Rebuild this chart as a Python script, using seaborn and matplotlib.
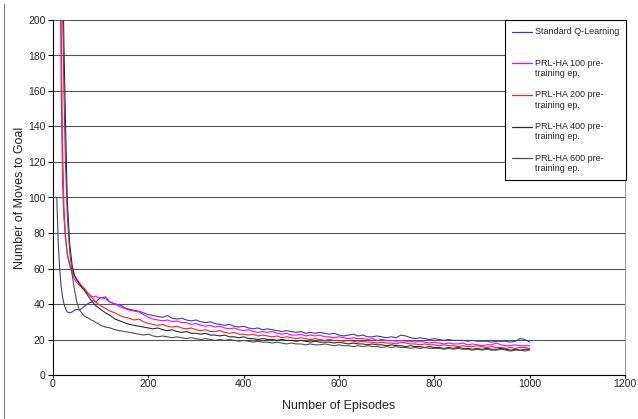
import numpy as np
import pandas as pd
import matplotlib
matplotlib.use('Agg')
import matplotlib.pyplot as plt
import seaborn as sns
from matplotlib.legend_handler import HandlerLine2D
from matplotlib.lines import Line2D

# episodes (dense at the start, every 10 afterwards)
episodes_early = [8, 11, 14, 17, 20, 23, 26, 30, 35, 40, 45, 50, 55, 60, 65, 70, 75, 80, 85, 90, 95, 100]
episodes_late = list(range(110, 1001, 10))
episodes = episodes_early + episodes_late

series_names = ['Standard Q-Learning', 'PRL-HA 100 pre-training ep.', 'PRL-HA 200 pre-training ep.',
                'PRL-HA 400 pre-training ep.', 'PRL-HA 600 pre-training ep.']
legend_labels = ['Standard Q-Learning\n', 'PRL-HA 100 pre-\ntraining ep.', 'PRL-HA 200 pre-\ntraining ep.',
                 'PRL-HA 400 pre-\ntraining ep.', 'PRL-HA 600 pre-\ntraining ep.']
line_colors = ['#3c3caa', '#ff00ff', '#ff2020', '#2a2a2a', '#505050']

# values (values above 200 run off the top of the chart)
q_early = [100, 74, 60, 50, 44, 40, 37.5, 35.5, 35, 35.5, 36.5, 37, 36.5, 37.5, 38.5, 39.5, 40.5, 41, 42, 41, 42.5, 43.5]
q_late = [44, 41, 40, 39.5, 38, 37, 36.5, 36, 35, 34,
          33.5, 33, 32.5, 33.5, 32, 31.5, 32, 31, 30.5, 31,
          30, 29.5, 30, 29, 28.5, 28, 28.5, 27.5, 27, 27.5,
          26.5, 26, 26.5, 25.5, 26, 25.5, 25, 24.5, 25, 24.5,
          24, 24.5, 23.5, 24, 23.5, 24, 23.5, 23, 23.5, 22.5,
          22, 22.5, 23, 22, 22.5, 21.5, 21.5, 22, 21.5, 21,
          21.5, 21, 22.5, 22, 21, 20.5, 21, 20.5, 20, 20.5,
          20, 19.5, 20, 19.5, 19.5, 19.5, 19, 19.5, 19, 19,
          19, 18.5, 19, 19, 19, 18.5, 19, 20.5, 20, 18.5]

p100_early = [500, 400, 300, 205, 130, 95, 79, 68, 62, 57, 54, 52, 50.5, 49.5, 48, 46.5, 45.5, 44.5, 44, 44.5, 43.5, 43.5]
p100_late = [43, 41, 40, 38.5, 37.5, 36.5, 36, 35.5, 34, 32.5,
             31.5, 31, 30.5, 31, 30, 30.5, 29.5, 29.5, 28.5, 29,
             28, 27.5, 28, 27, 27.5, 26.5, 26, 26.5, 25.5, 25,
             25.5, 24.5, 24, 24.5, 24, 24.5, 23.5, 23, 23.5, 22.5,
             22.5, 23, 22, 22.5, 22, 22.5, 21.5, 21.5, 21, 21.5,
             21, 20.5, 21, 20.5, 20.5, 20, 20.5, 19.5, 20, 19.5,
             19.5, 19, 19.5, 19, 19, 18.5, 19, 18.5, 18, 18.5,
             18, 17.5, 18, 17.5, 17.5, 18, 17, 17.5, 17, 16.5,
             17, 17, 18, 17, 16.5, 16.5, 17, 16.5, 16.5, 16.5]

p200_early = [500, 400, 280, 165, 108, 88, 78, 68, 62, 58.5, 56, 54, 52, 50.5, 49, 47.5, 45.5, 44, 42.5, 41, 40, 39]
p200_late = [37.5, 36, 35, 33.5, 32.5, 32, 31, 31.5, 30, 29,
             28.5, 28, 28.5, 27.5, 27, 27.5, 26.5, 26, 26.5, 25.5,
             25, 25.5, 24.5, 24.5, 25, 24, 23.5, 24, 23, 23,
             22.5, 23, 22, 22.5, 22, 21.5, 22, 21, 21.5, 21,
             20.5, 21, 20.5, 20, 20.5, 20, 19.5, 20, 19.5, 19.5,
             19, 19.5, 19, 18.5, 19, 18.5, 18.5, 18, 18.5, 18,
             18, 17.5, 18.5, 18, 17.5, 17.5, 17, 17.5, 17, 17,
             16.5, 17, 16.5, 16.5, 16, 16.5, 16, 16, 16.5, 16,
             15.5, 16, 15.5, 15.5, 15, 15.5, 15, 15.5, 15.5, 15]

p400_early = [600, 500, 400, 300, 235, 185, 145, 98, 74, 62, 56, 53.5, 51.5, 49.5, 48, 46, 44, 42, 40.5, 39, 38, 37]
p400_late = [35, 33.5, 31.5, 30.5, 29.5, 28.5, 28, 27.5, 27, 26.5,
             26, 26.5, 25.5, 25, 25.5, 24.5, 24, 24.5, 23.5, 23.5,
             23, 23.5, 22.5, 22.5, 22, 22.5, 21.5, 21.5, 21, 21.5,
             20.5, 20.5, 20, 20.5, 20, 20, 19.5, 20, 19.5, 19.5,
             19, 19.5, 19, 18.5, 19, 18.5, 18.5, 18.5, 18, 18.5,
             18, 17.5, 18, 17.5, 17.5, 17, 17.5, 17, 17, 16.5,
             17, 16.5, 16.5, 16, 16.5, 16, 16, 15.5, 16, 15.5,
             15.5, 15, 15.5, 15, 15.5, 15, 15, 14.5, 15, 14.5,
             15, 14.5, 14.5, 15, 14.5, 14, 14.5, 14, 14.5, 14.5]

p600_early = [600, 480, 380, 280, 210, 160, 120, 90, 70, 57, 48, 41, 37, 35, 33.5, 32.5, 32, 31, 30.5, 29.5, 29, 28]
p600_late = [27, 26.5, 25.5, 25, 24.5, 24, 23.5, 23, 22.5, 23,
             22, 21.5, 22, 21.5, 21, 21.5, 21, 20.5, 21, 20.5,
             20, 20.5, 20, 19.5, 20, 19.5, 20, 19.5, 19, 19.5,
             19, 18.5, 19, 18.5, 18.5, 18, 18.5, 18, 17.5, 18,
             17.5, 17.5, 17, 17.5, 17, 17, 17.5, 17, 16.5, 17,
             16.5, 16.5, 16, 16.5, 16, 16.5, 16, 16, 15.5, 16,
             15.5, 16, 15.5, 15.5, 15, 15.5, 15, 15.5, 15, 15,
             15, 14.5, 15, 14.5, 15, 14.5, 14.5, 14, 14.5, 14,
             14.5, 14, 14, 14.5, 14, 13.5, 14, 14, 13.5, 14]

all_values = [q_early + q_late, p100_early + p100_late, p200_early + p200_late,
              p400_early + p400_late, p600_early + p600_late]


class FirstLineHandler(HandlerLine2D):
    # put the legend line next to the first text line, like Excel does
    def create_artists(self, legend, orig_handle, xdescent, ydescent, width, height, fontsize, trans):
        artists = super().create_artists(legend, orig_handle, xdescent, ydescent,
                                         width, height, fontsize, trans)
        for a in artists:
            a.set_ydata(np.asarray(a.get_ydata()) + 0.6 * fontsize)
        return artists


def main():
    frames = []
    for name, vals in zip(series_names, all_values):
        frames.append(pd.DataFrame({'Episode': episodes, 'Moves': vals, 'Series': name}))
    df = pd.concat(frames, ignore_index=True)

    sns.set_style('white')
    plt.rcParams['font.family'] = ['Liberation Sans', 'DejaVu Sans']

    fig = plt.figure(figsize=(6.38, 4.19), dpi=100)
    ax = fig.add_axes([53 / 638, 1 - 375 / 419, (625 - 53) / 638, (375 - 20) / 419])

    sns.lineplot(data=df, x='Episode', y='Moves', hue='Series', hue_order=series_names,
                 palette=line_colors, linewidth=0.8, estimator=None, legend=False, ax=ax)

    ax.set_xlim(0, 1200)
    ax.set_ylim(0, 200)
    ax.set_xticks(range(0, 1201, 200))
    ax.set_yticks(range(0, 201, 20))
    ax.yaxis.grid(True, color='#555555', linewidth=0.8)
    ax.xaxis.grid(False)
    ax.set_axisbelow(True)

    for side in ['left', 'bottom']:
        ax.spines[side].set_color('black')
        ax.spines[side].set_linewidth(0.8)
    ax.spines['top'].set_visible(False)
    ax.spines['right'].set_color('#9a9a9a')
    ax.spines['right'].set_linewidth(0.8)

    ax.tick_params(direction='out', width=0.8, color='black', labelsize=7.5,
                   bottom=True, left=True)
    ax.tick_params(axis='y', length=3.5, pad=2)
    ax.tick_params(axis='x', length=2.5, pad=0.5)
    ax.set_xlabel('Number of Episodes', fontsize=9, labelpad=7.5)
    ax.set_ylabel('Number of Moves to Goal', fontsize=9, labelpad=1.5)

    handles = [Line2D([], [], color=c, linewidth=0.9) for c in line_colors]
    leg = ax.legend(handles, legend_labels, loc='upper right', bbox_to_anchor=(1.002, 1.0),
                    borderaxespad=0, frameon=True, fancybox=False, framealpha=1,
                    edgecolor='black', fontsize=6.5, handlelength=2.2, handletextpad=0.3,
                    labelspacing=1.35, borderpad=0.8,
                    handler_map={Line2D: FirstLineHandler()})
    leg.get_frame().set_linewidth(0.8)

    # thin border on the left edge of the chart area
    fig.add_artist(Line2D([4 / 638, 4 / 638], [0, 1 - 4 / 419], transform=fig.transFigure,
                          color='#808080', linewidth=0.8))

    fig.savefig('out.png', dpi=100)


if __name__ == '__main__':
    main()
